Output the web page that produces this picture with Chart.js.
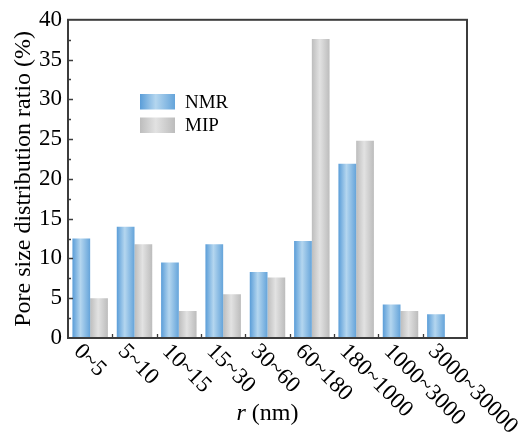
<!DOCTYPE html>
<html>
<head>
<meta charset="utf-8">
<script src="https://cdn.jsdelivr.net/npm/chart.js@4/dist/chart.umd.min.js"></script>
<style>
  html, body { margin: 0; padding: 0; background: #ffffff; }
  #wrap { width: 522px; height: 434px; }
</style>
</head>
<body>
<div id="wrap"><canvas id="c" width="522" height="434"></canvas></div>
<script>
// Pore size classes (nm) and distribution ratios (%)
const categories = ['0~5', '5~10', '10~15', '15~30', '30~60', '60~180', '180~1000', '1000~3000', '3000~30000'];
const nmrValues = [12.5, 14.0, 9.5, 11.8, 8.3, 12.2, 21.9, 4.2, 3.0];
const mipValues = [5.0, 11.8, 3.4, 5.5, 7.6, 37.6, 24.8, 3.4, null];
const seriesNames = ['NMR', 'MIP'];
const yMin = 0, yMax = 40, yStep = 5;
const xTitleItalic = 'r';
const xTitleRest = ' (nm)';
const yTitle = 'Pore size distribution ratio (%)';

const SERIF = '"Liberation Serif", "Times New Roman", serif';
const FRAME = '#3c3c3c';

// Horizontal "cylinder" shading for each series
const shades = [
  [[0, '#5a9dd8'], [0.45, '#b4d6ef'], [1, '#65a4da']],
  [[0, '#bdbdbd'], [0.45, '#e2e2e2'], [1, '#bcbcbc']]
];

function makeGradient(ctx, x0, x1, stops) {
  const g = ctx.createLinearGradient(x0, 0, x1, 0);
  stops.forEach(s => g.addColorStop(s[0], s[1]));
  return g;
}

const decor = {
  id: 'decor',
  beforeDatasetsDraw(chart) {
    const ctx = chart.ctx;
    chart.data.datasets.forEach((ds, di) => {
      const meta = chart.getDatasetMeta(di);
      meta.data.forEach(el => {
        if (!el || el.width === undefined) return;
        const x0 = el.x - el.width / 2, x1 = el.x + el.width / 2;
        el.options.backgroundColor = makeGradient(ctx, x0, x1, shades[di]);
      });
    });
  },
  afterDraw(chart) {
    const ctx = chart.ctx;
    const a = chart.chartArea;
    const xs = chart.scales.x, ys = chart.scales.y;
    ctx.save();

    // frame
    ctx.strokeStyle = FRAME;
    ctx.lineWidth = 2;
    ctx.strokeRect(a.left, a.top, a.right - a.left, a.bottom - a.top);

    // inward ticks on the left axis (major + minor)
    ctx.lineWidth = 1.3;
    ctx.beginPath();
    for (let v = yMin; v <= yMax; v += yStep / 2) {
      const y = Math.round(ys.getPixelForValue(v)) + 0.5;
      const major = (v % yStep) === 0;
      if (v === yMin || v === yMax) continue;
      ctx.moveTo(a.left, y);
      ctx.lineTo(a.left + (major ? 5 : 3), y);
    }
    // inward ticks on the bottom axis between categories
    const cw = (a.right - a.left) / categories.length;
    for (let i = 1; i < categories.length; i++) {
      const x = Math.round(a.left + i * cw) + 0.5;
      ctx.moveTo(x, a.bottom);
      ctx.lineTo(x, a.bottom - 4);
    }
    ctx.stroke();

    // rotated category labels
    ctx.fillStyle = '#000';
    ctx.font = '23px ' + SERIF;
    ctx.textAlign = 'left';
    ctx.textBaseline = 'middle';
    categories.forEach((lab, i) => {
      const cx = xs.getPixelForValue(i);
      ctx.save();
      ctx.translate(cx - 13, a.bottom + 10);
      ctx.rotate(Math.PI / 4);
      ctx.fillText(lab, 0, 0);
      ctx.restore();
    });

    // x title
    ctx.textBaseline = 'alphabetic';
    const mid = (a.left + a.right) / 2;
    ctx.font = 'italic 24px ' + SERIF;
    const w1 = ctx.measureText(xTitleItalic).width;
    ctx.font = '24px ' + SERIF;
    const w2 = ctx.measureText(xTitleRest).width;
    const sx = mid - (w1 + w2) / 2;
    ctx.font = 'italic 24px ' + SERIF;
    ctx.fillText(xTitleItalic, sx, 420);
    ctx.font = '24px ' + SERIF;
    ctx.fillText(xTitleRest, sx + w1, 420);

    // y title
    ctx.save();
    ctx.translate(29.5, (a.top + a.bottom) / 2);
    ctx.rotate(-Math.PI / 2);
    ctx.textAlign = 'center';
    ctx.font = '24px ' + SERIF;
    ctx.fillText(yTitle, 0, 0);
    ctx.restore();

    // legend
    const lx = 140, ly = [94, 117.5], bw = 35, bh = 15.5;
    ctx.font = '19px ' + SERIF;
    ctx.textAlign = 'left';
    ctx.textBaseline = 'middle';
    seriesNames.forEach((name, i) => {
      ctx.fillStyle = makeGradient(ctx, lx, lx + bw, shades[i]);
      ctx.fillRect(lx, ly[i], bw, bh);
      ctx.fillStyle = '#000';
      ctx.fillText(name, 185, ly[i] + bh / 2 + 1);
    });

    ctx.restore();
  }
};

new Chart(document.getElementById('c'), {
  type: 'bar',
  data: {
    labels: categories,
    datasets: [
      { label: seriesNames[0], data: nmrValues, backgroundColor: () => shades[0][1][1] },
      { label: seriesNames[1], data: mipValues, backgroundColor: () => shades[1][1][1] }
    ]
  },
  options: {
    responsive: false,
    animation: false,
    devicePixelRatio: 1,
    layout: { padding: { left: 0, top: 17, right: 55, bottom: 96 } },
    datasets: { bar: { barPercentage: 1, categoryPercentage: 0.8, borderWidth: 0 } },
    plugins: { legend: { display: false }, tooltip: { enabled: false } },
    scales: {
      x: {
        type: 'category',
        offset: true,
        grid: { display: false, drawTicks: false },
        border: { display: false },
        ticks: { display: false },
        afterFit: s => { s.height = 0; }
      },
      y: {
        min: yMin,
        max: yMax,
        grid: { display: false, drawTicks: false },
        border: { display: false },
        ticks: {
          stepSize: yStep,
          padding: 6,
          color: '#000',
          font: { family: SERIF, size: 23 }
        },
        afterFit: s => { s.width = 68; }
      }
    }
  },
  plugins: [decor]
});
</script>
</body>
</html>
